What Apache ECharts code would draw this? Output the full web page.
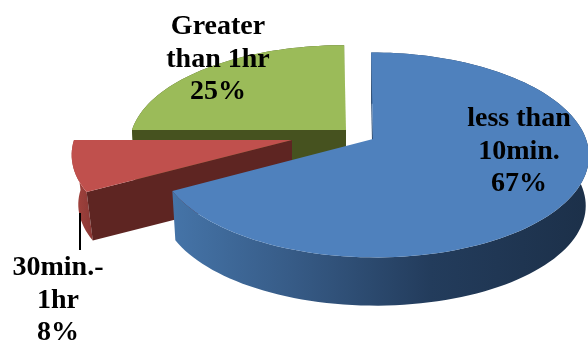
<!DOCTYPE html>
<html>
<head>
<meta charset="utf-8">
<style>html,body{margin:0;padding:0;background:#fff}#c{width:588px;height:341px}</style>
<script src="https://cdn.jsdelivr.net/npm/echarts@6/dist/echarts.min.js"></script>
</head>
<body>
<div id="c"></div>
<script>
const categories = ['less than 10min.', '30min.-1hr', 'Greater than 1hr'];
const labelLines = [['less than', '10min.'], ['30min.-', '1hr'], ['Greater', 'than 1hr']];
const values = [67, 8, 25];

const topColors = ['#4f81bd', '#c0504d', '#9bbb59'];
const apex = [[373, 139], [292, 140], [346, 130]];
const radiusX = [213, 218, 214];
const radiusY = [100, 100, 98];
const shrink = [0.985, 0.97, 0.985];
const order = [3, 2, 1];
const labelPos = [[519, 119], [58, 268], [218, 27]];
const PERSP = 6.43, DEPTH = 50, SKEW = 0.01;
const LINE_H = 32.5;
const total = values.reduce((a, b) => a + b, 0);

function proj(i, deg) {
  const a = deg * Math.PI / 180, X = Math.sin(a), Y = -Math.cos(a), w = 1 - Y / PERSP;
  return [apex[i][0] + radiusX[i] * (X + SKEW * Y) / w, apex[i][1] + radiusY[i] * Y / w];
}
function low(i, p) {
  return [apex[i][0] + (p[0] - apex[i][0]) * shrink[i], apex[i][1] + (p[1] - apex[i][1]) * shrink[i] + DEPTH];
}
function arc(i, s, e) {
  const pts = [], n = Math.max(4, Math.ceil(Math.abs(e - s) / 2));
  for (let k = 0; k <= n; k++) pts.push(proj(i, s + (e - s) * k / n));
  return pts;
}
function grad(stops) {
  return new echarts.graphic.LinearGradient(0, 0, 1, 0,
    stops.map(s => ({ offset: s[0], color: s[1] })));
}
const wallFill = [
  () => grad([[0, '#4574a8'], [0.3, '#365a85'], [0.62, '#233c5c'], [1, '#1c3049']]),
  () => grad([[0, '#a8453f'], [1, '#8a3835']]),
  () => '#46521f'
];
const sideFill = ['#2f5078', '#5e2522', '#46521f'];

function renderItem(params, api) {
  const i = params.dataIndex;
  const v = api.value(0);
  let s = 0;
  for (let k = 0; k < i; k++) s += values[k];
  const a0 = s / total * 360, a1 = (s + v) / total * 360;
  const c = apex[i];
  const z = order[i] * 10;
  const top = arc(i, a0, a1);
  const kids = [];
  const poly = (points, fill, dz) => kids.push({
    type: 'polygon', z2: z + dz, shape: { points }, style: { fill, stroke: null }
  });
  // outer wall
  const wallBot = top.map(p => low(i, p)).reverse();
  poly(top.concat(wallBot), wallFill[i](), 0);
  // radial face at the slice's leading edge
  const p = proj(i, a0);
  poly([c, p, low(i, p), low(i, c)], sideFill[i], 1);
  // top face
  poly([c].concat(top), topColors[i], 2);
  // label
  const txt = labelLines[i].concat([v + '%']).join('\n');
  kids.push({
    type: 'text', z2: 100,
    x: labelPos[i][0], y: labelPos[i][1] - LINE_H / 2,
    style: {
      text: txt, fill: '#000', align: 'center', verticalAlign: 'top',
      font: 'bold 28px "Liberation Serif"', lineHeight: LINE_H
    }
  });
  if (i === 1) {
    kids.push({
      type: 'line', z2: 99,
      shape: { x1: 80, y1: 213, x2: 80, y2: 250 },
      style: { stroke: '#000', lineWidth: 2 }
    });
  }
  return { type: 'group', children: kids };
}

const chart = echarts.init(document.getElementById('c'), null, { renderer: 'canvas' });
chart.setOption({
  animation: false,
  backgroundColor: '#fff',
  series: [{
    type: 'custom',
    coordinateSystem: 'none',
    renderItem,
    data: categories.map((name, i) => ({ name, value: [values[i]] }))
  }]
});
</script>
</body>
</html>
